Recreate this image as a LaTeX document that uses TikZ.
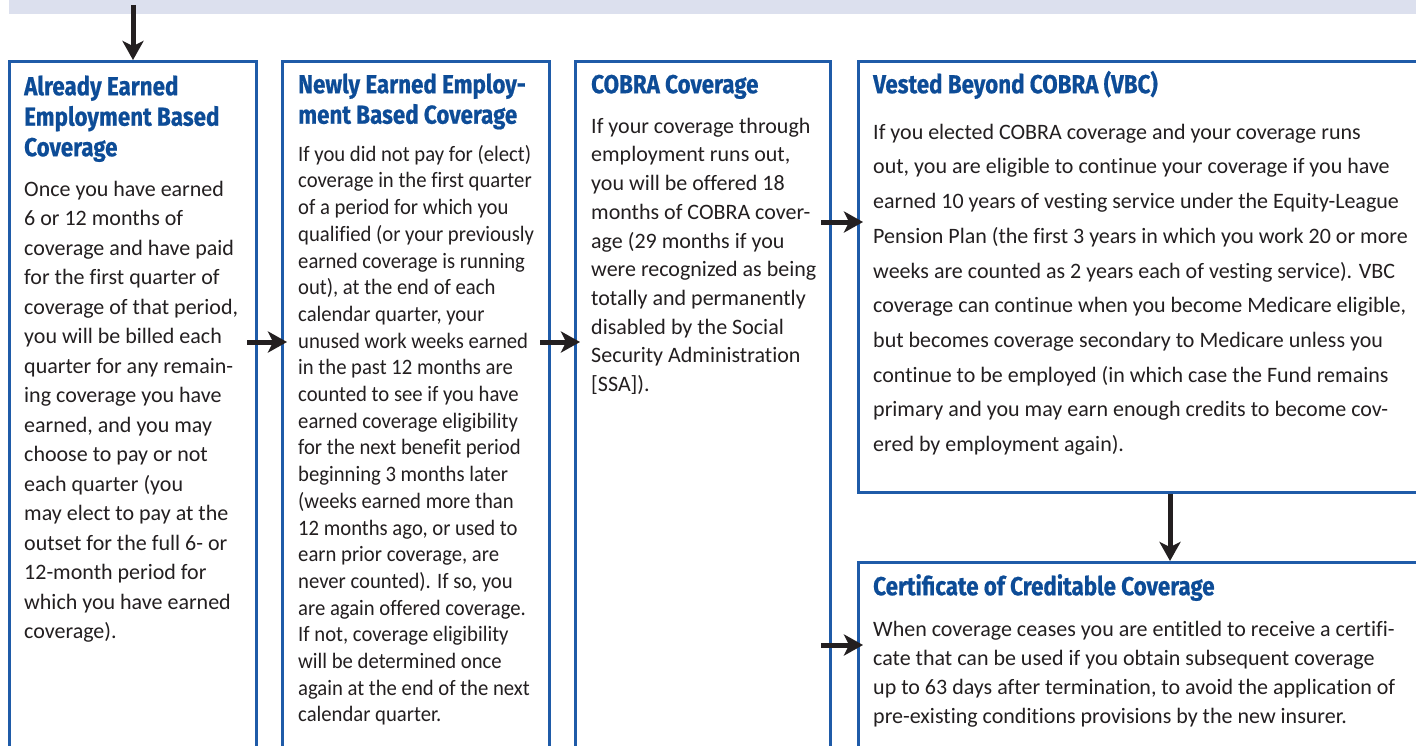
\documentclass[tikz,border=0pt]{standalone}
\usepackage{fontspec}
\setmainfont{Carlito}
\newfontfamily\bodyfont[Ligatures=NoCommon]{Carlito}
\newfontfamily\tightfont[Ligatures=NoCommon,FakeStretch=0.94]{Carlito}
\newfontfamily\headfont[FakeStretch=0.86,BoldFeatures={FakeBold=0.6}]{Fira Sans}
\usetikzlibrary{arrows.meta,calc,positioning}

\definecolor{boxblue}{HTML}{1F5BA8}
\definecolor{headblue}{HTML}{0D4C97}
\definecolor{inkgrey}{HTML}{231F20}
\definecolor{bandgrey}{HTML}{DCE0EE}

\newcommand{\hstrut}{\rule{0pt}{28pt}}
\newcommand{\bstrut}{\rule{0pt}{24pt}}

\tikzset{
  panel/.style={draw=boxblue,line width=3pt,anchor=north west,inner sep=0pt},
  head/.style={anchor=north west,inner sep=0pt,align=left,text=headblue},
  body/.style={anchor=north west,inner sep=0pt,align=left,text=inkgrey},
  flow/.style={draw=inkgrey,line width=5pt,-{Stealth[length=19pt,width=21pt,inset=5pt]}},
}

\begin{document}
\begin{tikzpicture}[x=1pt,y=-1pt]
    \clip (0,0) rectangle (1416,745);
    \fill[white] (0,0) rectangle (1416,745);

    % band at the top
    \node (band) [fill=bandgrey,anchor=south west,inner sep=0pt,
                  minimum width=1420pt,minimum height=18pt] at (9,14) {};

    % the five panels
    \node (early) [panel,minimum width=247pt,minimum height=760pt] at (8,60)   {};
    \node (newly) [panel,minimum width=267pt,minimum height=760pt] at (281,60) {};
    \node (cobra) [panel,minimum width=255pt,minimum height=760pt] at (574,60) {};
    \node (vbc)   [panel,minimum width=600pt,minimum height=431pt] at (857,60) {};
    \node (cert)  [panel,minimum width=600pt,minimum height=300pt] at (857,561) {};

    % titles
    \begin{scope}[every node/.append style={font=\headfont\bfseries\fontsize{26}{30.5}\selectfont}]
        \node (earlyhead) [head] at (24,67)  {\hstrut Already Earned\\Employment Based\\Coverage};
        \node (newlyhead) [head] at (298,65) {\hstrut Newly Earned Employ-\\ment Based Coverage};
        \node (cobrahead) [head] at (591,65) {\hstrut COBRA Coverage};
        \node (vbchead)   [head] at (873,65) {\hstrut Vested Beyond COBRA (VBC)};
        \node (certhead)  [head] at (873,567) {\hstrut Certificate of Creditable Coverage};
    \end{scope}

    % texts
    \node (earlytext) [body,font=\bodyfont\fontsize{22}{29.5}\selectfont] at (24,172) {\bstrut
        Once you have earned\\6 or 12 months of\\coverage and have paid\\for the first quarter of\\
        coverage of that period,\\you will be billed each\\quarter for any remain-\\
        ing coverage you have\\earned, and you may\\choose to pay or not\\each quarter (you\\
        may elect to pay at the\\outset for the full 6- or\\12-month period for\\
        which you have earned\\coverage).};
    \node (newlytext) [body,font=\tightfont\fontsize{22}{26.7}\selectfont] at (298,137) {\bstrut
        If you did not pay for (elect)\\coverage in the first quarter\\of a period for which you\\
        qualified (or your previously\\earned coverage is running\\out), at the end of each\\
        calendar quarter, your\\unused work weeks earned\\in the past 12 months are\\
        counted to see if you have\\earned coverage eligibility\\for the next benefit period\\
        beginning 3 months later\\(weeks earned more than\\12 months ago, or used to\\
        earn prior coverage, are\\never counted). If so, you\\are again offered coverage.\\
        If not, coverage eligibility\\will be determined once\\again at the end of the next\\
        calendar quarter.};
    \node (cobratext) [body,font=\bodyfont\fontsize{22}{28.7}\selectfont] at (591,109) {\bstrut
        If your coverage through\\employment runs out,\\you will be offered 18\\
        months of COBRA cover-\\age (29 months if you\\were recognized as being\\
        totally and permanently\\disabled by the Social\\Security Administration\\{[SSA]).}};
    \node (vbctext) [body,font=\bodyfont\fontsize{22}{34.7}\selectfont] at (873,115) {\bstrut
        If you elected COBRA coverage and your coverage runs\\
        out, you are eligible to continue your coverage if you have\\
        earned 10 years of vesting service under the Equity-League\\
        Pension Plan (the first 3 years in which you work 20 or more\\
        weeks are counted as 2 years each of vesting service). VBC\\
        coverage can continue when you become Medicare eligible,\\
        but becomes coverage secondary to Medicare unless you\\
        continue to be employed (in which case the Fund remains\\
        primary and you may earn enough credits to become cov-\\
        ered by employment again).};
    \node (certtext) [body,font=\bodyfont\fontsize{22}{29}\selectfont] at (873,612) {\bstrut
        When coverage ceases you are entitled to receive a certifi-\\
        cate that can be used if you obtain subsequent coverage\\
        up to 63 days after termination, to avoid the application of\\
        pre-existing conditions provisions by the new insurer.};

    % connectors
    \draw[flow] (early.north |- band.center) -- (early.north);
    \draw[flow,shorten >=-6pt] ($(early.north east)+(-11,282)$) -- ($(newly.north west)+(0,282)$);
    \draw[flow,shorten >=-6pt] ($(newly.north east)+(-11,282)$) -- ($(cobra.north west)+(0,282)$);
    \draw[flow,shorten >=-6pt] ($(cobra.north east)+(-11,162)$) -- ($(vbc.north west)+(0,162)$);
    \draw[flow,shorten >=-6pt] ($(cobra.north east)+(-11,585)$) -- ($(cert.north west)+(0,84)$);
    \draw[flow] ($(vbc.south west)+(313,0)$) -- ($(cert.north west)+(313,0)$);
\end{tikzpicture}
\end{document}
